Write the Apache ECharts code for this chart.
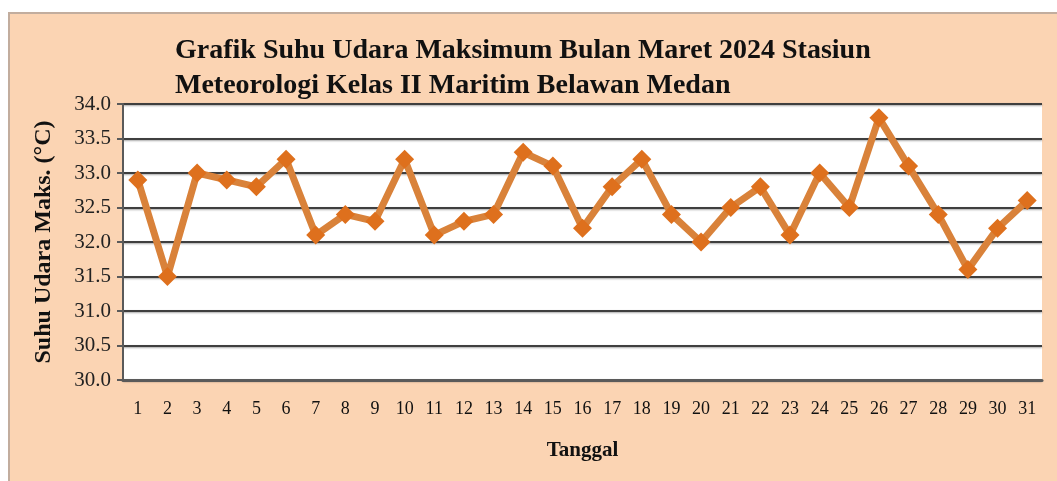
<!DOCTYPE html>
<html>
<head>
<meta charset="utf-8">
<script src="https://cdn.jsdelivr.net/npm/echarts@6/dist/echarts.min.js"></script>
<style>
  html, body { margin: 0; padding: 0; background: #ffffff; }
  #frame { position: absolute; left: 8px; top: 12px; width: 1060px; height: 480px;
           background: #FBD4B3; border-top: 2px solid #C2AD9E; border-left: 2px solid #C2AD9E; box-sizing: border-box; }
  #chart { position: absolute; left: 0; top: 0; width: 1057px; height: 481px; }
</style>
</head>
<body>
<div id="frame"></div>
<div id="chart"></div>
<script>
const titleText = 'Grafik Suhu Udara Maksimum Bulan Maret 2024 Stasiun\nMeteorologi Kelas II Maritim Belawan Medan';
const xAxisName = 'Tanggal';
const yAxisName = 'Suhu Udara Maks. (°C)';
const tanggal = ['1','2','3','4','5','6','7','8','9','10','11','12','13','14','15','16','17','18','19','20','21','22','23','24','25','26','27','28','29','30','31'];
const suhuMaks = [32.9, 31.5, 33.0, 32.9, 32.8, 33.2, 32.1, 32.4, 32.3, 33.2, 32.1, 32.3, 32.4, 33.3, 33.1, 32.2, 32.8, 33.2, 32.4, 32.0, 32.5, 32.8, 32.1, 33.0, 32.5, 33.8, 33.1, 32.4, 31.6, 32.2, 32.6];
const yMin = 30, yMax = 34, yStep = 0.5;

const serif = 'Liberation Serif, Times New Roman, serif';
const chart = echarts.init(document.getElementById('chart'), null, { renderer: 'canvas' });
chart.setOption({
  backgroundColor: 'transparent',
  animation: false,
  title: {
    text: titleText,
    left: 170, top: 28,
    textStyle: { fontFamily: serif, fontSize: 28, fontWeight: 'bold', color: '#111', lineHeight: 35 }
  },
  grid: { left: 123, right: 15, top: 104, bottom: 101, show: true, backgroundColor: '#ffffff', borderWidth: 0 },
  xAxis: {
    type: 'category',
    data: tanggal,
    boundaryGap: true,
    name: xAxisName,
    nameLocation: 'middle',
    nameGap: 60,
    nameTextStyle: { fontFamily: serif, fontSize: 21, fontWeight: 'bold', color: '#111' },
    axisLine: { lineStyle: { color: '#5a5a5a', width: 3 } },
    axisTick: { show: false },
    axisLabel: { fontFamily: serif, fontSize: 18, color: '#111', margin: 20, interval: 0 },
    splitLine: { show: false }
  },
  yAxis: {
    type: 'value',
    min: yMin, max: yMax, interval: yStep,
    name: yAxisName,
    nameLocation: 'middle',
    nameGap: 67,
    nameRotate: 90,
    nameTextStyle: { fontFamily: serif, fontSize: 24, fontWeight: 'bold', color: '#111' },
    axisLine: { show: true, lineStyle: { color: '#5a5a5a', width: 2 } },
    axisTick: { show: true, inside: false, length: 6, lineStyle: { color: '#5a5a5a', width: 2 } },
    axisLabel: { fontFamily: serif, fontSize: 21, color: '#222', margin: 12, formatter: v => v.toFixed(1) },
    splitLine: { show: true, lineStyle: { color: '#3f3f3f', width: 2, shadowColor: 'rgba(0,0,0,0.35)', shadowBlur: 2, shadowOffsetY: 1 } }
  },
  series: [{
    type: 'line',
    data: suhuMaks,
    symbol: 'diamond',
    symbolSize: 19,
    lineStyle: { color: '#D9823A', width: 7 },
    itemStyle: { color: '#DE701D', borderWidth: 0 }
  }]
});
</script>
</body>
</html>
